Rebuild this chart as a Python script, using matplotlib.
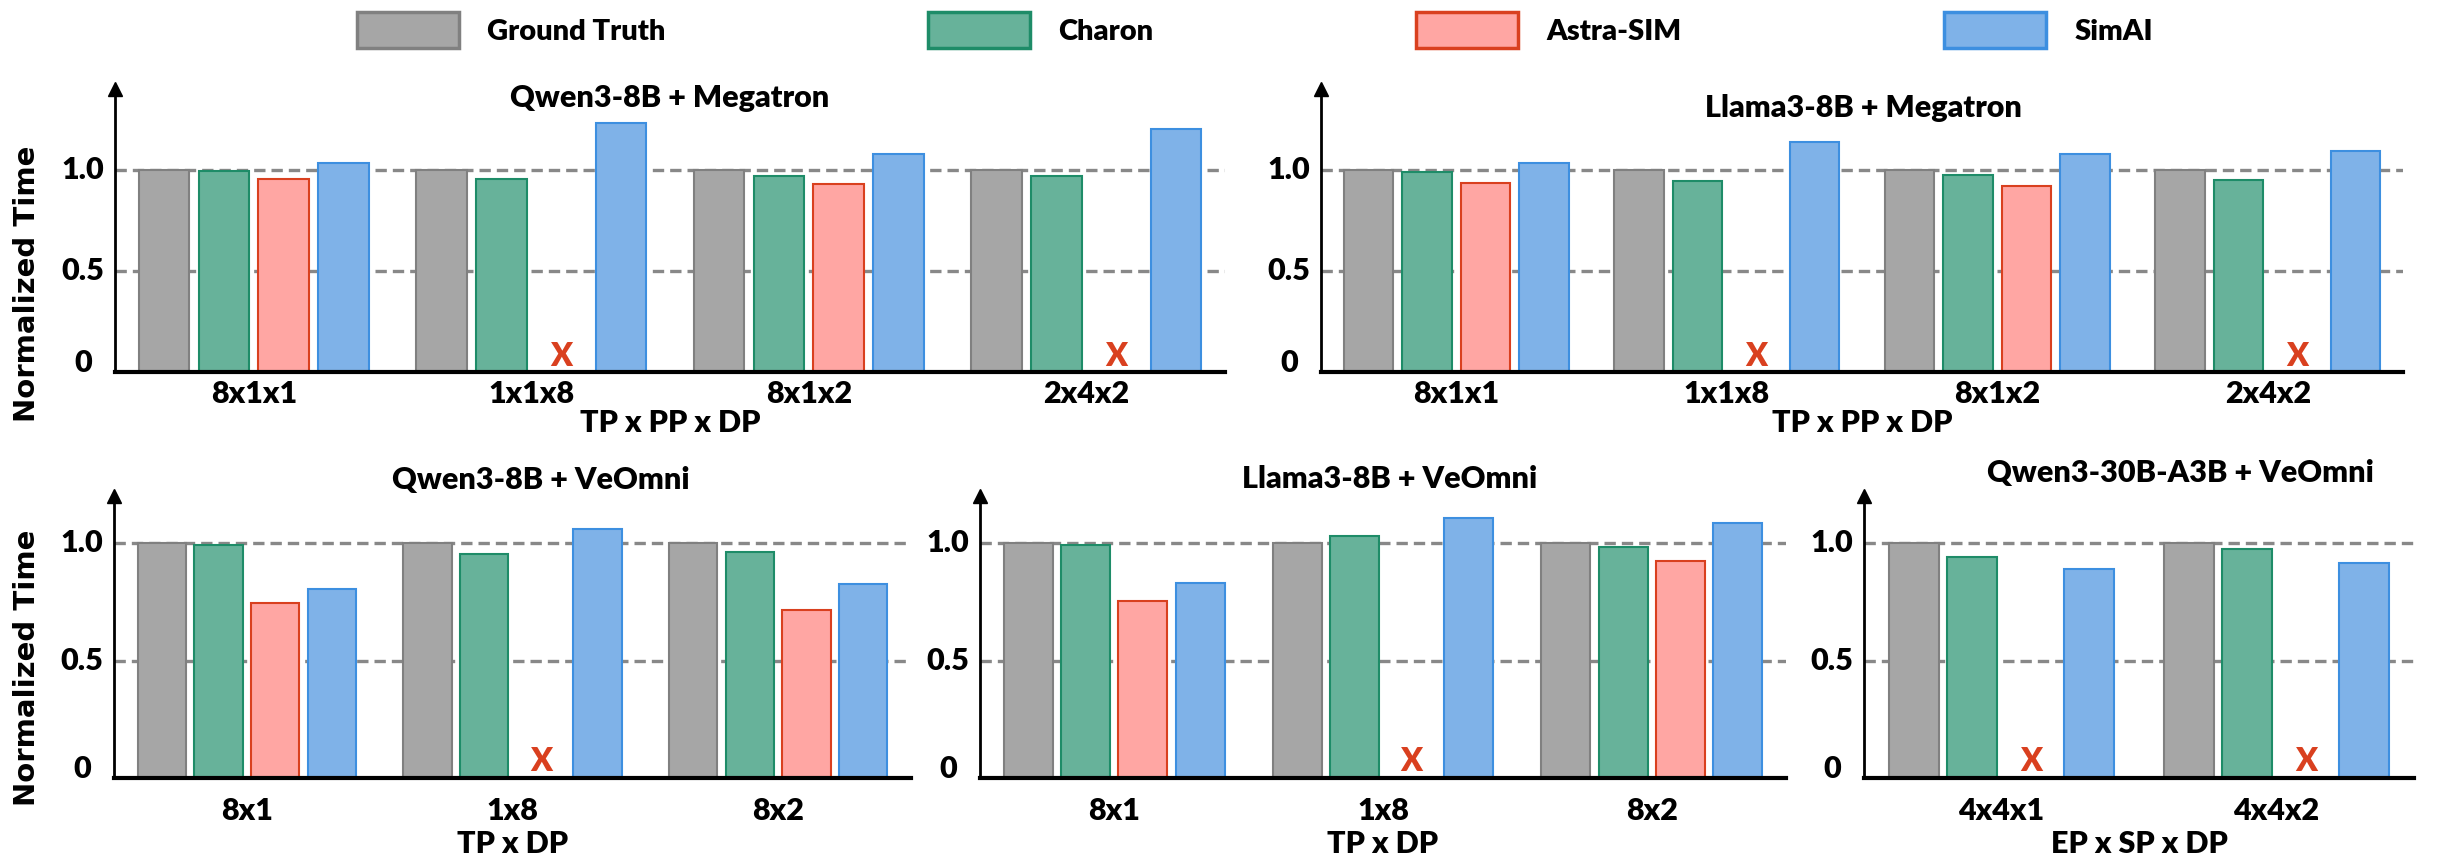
import numpy as np
import matplotlib
matplotlib.use('Agg')
import matplotlib.pyplot as plt
from matplotlib.patches import Patch

plt.rcParams['font.family'] = ['Lato', 'DejaVu Sans']
plt.rcParams['font.weight'] = 'heavy'
plt.rcParams['axes.labelweight'] = 'heavy'

series = ['Ground Truth', 'Charon', 'Astra-SIM', 'SimAI']
fills = ['#a6a6a6', '#67b29a', '#ffa6a3', '#7fb2e8']
edges = ['#808080', '#1e8c68', '#d9401f', '#3d8fe0']
nan = np.nan

# top row: TP x PP x DP on Megatron
mega_cfgs = ['8x1x1', '1x1x8', '8x1x2', '2x4x2']
mega_gt = [1.0, 1.0, 1.0, 1.0]
qwen_mega_charon = [0.995, 0.955, 0.97, 0.97]
qwen_mega_astra = [0.955, nan, 0.932, nan]
qwen_mega_simai = [1.035, 1.23, 1.076, 1.203]
llama_mega_charon = [0.988, 0.946, 0.974, 0.949]
llama_mega_astra = [0.934, nan, 0.919, nan]
llama_mega_simai = [1.035, 1.137, 1.079, 1.092]

# bottom row: VeOmni
veo_cfgs = ['8x1', '1x8', '8x2']
veo_gt = [1.0, 1.0, 1.0]
qwen_veo_charon = [0.991, 0.955, 0.96]
qwen_veo_astra = [0.745, nan, 0.713]
qwen_veo_simai = [0.804, 1.058, 0.824]
llama_veo_charon = [0.993, 1.028, 0.983]
llama_veo_astra = [0.753, nan, 0.923]
llama_veo_simai = [0.828, 1.105, 1.084]

moe_cfgs = ['4x4x1', '4x4x2']
moe_gt = [1.0, 1.0]
moe_charon = [0.94, 0.974]
moe_astra = [nan, nan]
moe_simai = [0.889, 0.915]

W, H = 2445, 860
fig = plt.figure(figsize=(24.45, 8.6), dpi=100)


def add_ax(x0, x1, ytop, ybase):
    return fig.add_axes([x0 / W, 1 - ybase / H, (x1 - x0) / W, (ybase - ytop) / H])


def draw(ax, cfgs, vals, ymax, pitch, xpad, xlab, xlab_y):
    x = np.arange(len(cfgs))
    for i, v in enumerate(vals):
        v = np.asarray(v, float)
        pos = x + (i - 1.5) * pitch
        ok = ~np.isnan(v)
        ax.bar(pos[ok], v[ok], 0.182, color=fills[i], edgecolor=edges[i],
               linewidth=1.5, zorder=2)
        # no result for this simulator -> red X
        for p in pos[~ok]:
            ax.text(p, 0.03, 'X', color='#d9401f', fontsize=23, ha='center',
                    va='baseline', zorder=3)
    for yy in (0.5, 1.0):
        ax.axhline(yy, color='#888888', lw=2.4, dashes=(3.4, 1.8), zorder=0)
    ax.set_xlim(-0.5, len(cfgs) - 0.5)
    ax.set_ylim(0, ymax)
    ax.set_xticks(x)
    ax.set_xticklabels(cfgs, fontsize=22, va='center')
    ax.set_yticks([0, 0.5, 1.0])
    ax.set_yticklabels(['0', '0.5', '1.0'], fontsize=22)
    plt.setp(ax.get_yticklabels(), ha='center', va='center')
    ax.get_yticklabels()[0].set_va('baseline')
    ax.tick_params(axis='y', length=0, pad=23)
    ax.tick_params(axis='x', length=0, pad=xpad)
    for s in ('top', 'right'):
        ax.spines[s].set_visible(False)
    ax.spines['left'].set_linewidth(2)
    ax.spines['bottom'].set_linewidth(3)
    ax.plot([0], [1], marker='^', color='black', markersize=10,
            transform=ax.transAxes, clip_on=False)
    ax.set_xlabel(xlab, fontsize=22, va='center')
    ax.xaxis.set_label_coords(0.5, xlab_y)
    ax.set_facecolor('none')


ax1 = add_ax(115, 1225, 89, 372)
draw(ax1, mega_cfgs, [mega_gt, qwen_mega_charon, qwen_mega_astra, qwen_mega_simai],
     1.4, 0.216, 16, 'TP x PP x DP', -51 / 283)
ax2 = add_ax(1321, 2403, 89, 372)
draw(ax2, mega_cfgs, [mega_gt, llama_mega_charon, llama_mega_astra, llama_mega_simai],
     1.4, 0.216, 16, 'TP x PP x DP', -51 / 283)
ax3 = add_ax(114, 911, 496, 778)
draw(ax3, veo_cfgs, [veo_gt, qwen_veo_charon, qwen_veo_astra, qwen_veo_simai],
     1.2, 0.213, 24, 'TP x DP', -66 / 282)
ax4 = add_ax(980, 1786, 496, 778)
draw(ax4, veo_cfgs, [veo_gt, llama_veo_charon, llama_veo_astra, llama_veo_simai],
     1.2, 0.213, 24, 'TP x DP', -66 / 282)
ax5 = add_ax(1864, 2414, 496, 778)
draw(ax5, moe_cfgs, [moe_gt, moe_charon, moe_astra, moe_simai],
     1.2, 0.213, 24, 'EP x SP x DP', -66 / 282)

titles = [('Qwen3-8B + Megatron', 670, 98), ('Llama3-8B + Megatron', 1863, 108),
          ('Qwen3-8B + VeOmni', 541, 480), ('Llama3-8B + VeOmni', 1390, 479),
          ('Qwen3-30B-A3B + VeOmni', 2180, 473)]
for t, tx, ty in titles:
    fig.text(tx / W, 1 - ty / H, t, fontsize=22, ha='center', va='center')

for ly in (284, 668):
    fig.text(27 / W, 1 - ly / H, 'Normalized Time', rotation=90, fontsize=21,
             family='DejaVu Sans', weight='bold', ha='center', va='center')

handles = [Patch(facecolor=f, edgecolor=e, linewidth=2.5) for f, e in zip(fills, edges)]
fig.legend(handles, series, loc='center', bbox_to_anchor=(1255 / W, 1 - 30 / H),
           ncol=4, frameon=False, fontsize=21, handlelength=3.5, handleheight=1.55,
           handletextpad=0.97, columnspacing=9)

fig.savefig('out.png', dpi=100)
